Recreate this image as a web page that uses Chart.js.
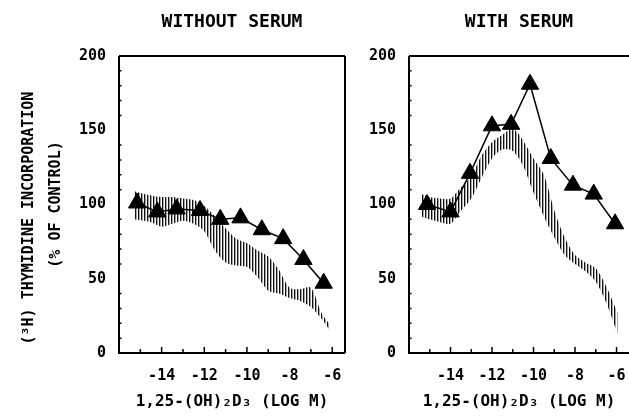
<!DOCTYPE html>
<html>
<head>
<meta charset="utf-8">
<script src="https://cdn.jsdelivr.net/npm/chart.js@4.4.1/dist/chart.umd.min.js"></script>
<style>
  html, body { margin: 0; padding: 0; background: #fff; overflow: hidden; }
  #wrap { position: relative; width: 629px; height: 420px; }
  canvas { position: absolute; top: 0; }
  #sinSuero { left: 0; }
  #conSuero { left: 350px; }
</style>
</head>
<body>
<div id="wrap">
  <canvas id="sinSuero" width="350" height="420"></canvas>
  <canvas id="conSuero" width="279" height="420"></canvas>
</div>
<script>
// marcas del eje x (log M) y etiquetas
const xTicks = [-15, -14, -13, -12, -11, -10, -9, -8, -7, -6];
const xLabels = [-14, -12, -10, -8, -6];
const yMinorTicks = [10, 20, 30, 40, 60, 70, 80, 90, 110, 120, 130, 140, 160, 170, 180, 190];

// sin suero: triangulos
const noSerumDose = [-15.15, -14.2, -13.3, -12.2, -11.25, -10.3, -9.3, -8.3, -7.35, -6.4];
const noSerumValues = [101, 95, 97, 96, 90, 91, 83, 77, 63, 47];
// sin suero: banda rayada (limites)
const noSerumBandX = [-15.3, -14.5, -14.0, -13.5, -13.0, -12.5, -12.0, -11.5, -11.0, -10.5, -10.0, -9.5, -9.0, -8.5, -8.0, -7.5, -7.0, -6.5, -6.1];
const noSerumBandHigh = [109, 106, 105, 105, 104, 103, 99, 92, 84, 77, 74, 69, 65, 56, 44, 43, 44, 27, 19];
const noSerumBandLow = [90, 88, 85, 87, 89, 87, 82, 69, 61, 59, 58, 51, 42, 40, 37, 35, 31, 23, 15];

// con suero: triangulos
const serumDose = [-15.13, -14.0, -13.06, -12.0, -11.08, -10.17, -9.17, -8.1, -7.1, -6.07];
const serumValues = [100, 95, 121, 153, 154, 181, 131, 113, 107, 87];
// con suero: banda rayada
const serumBandX = [-15.4, -15.0, -14.5, -14.0, -13.6, -13.0, -12.5, -12.0, -11.5, -11.0, -10.5, -10.0, -9.5, -9.0, -8.5, -8.0, -7.5, -7.0, -6.5, -5.95];
const serumBandHigh = [107, 105, 104, 104, 110, 119, 133, 142, 147, 151, 143, 131, 120, 96, 78, 66, 61, 57, 45, 27];
const serumBandLow = [92, 90, 88, 87, 94, 104, 118, 131, 137, 136, 126, 108, 92, 78, 66, 60, 55, 48, 34, 13];

const FONT = "'DejaVu Sans Mono', 'Liberation Mono', monospace";

// patron de rayas verticales para la banda
const makeHatch = () => {
  const c = document.createElement("canvas");
  c.width = 3;
  c.height = 4;
  const g = c.getContext("2d");
  g.fillStyle = "#111";
  g.fillRect(0, 0, 1, 4);
  g.fillStyle = "rgba(0,0,0,0.35)";
  g.fillRect(1, 0, 1, 4);
  return g.createPattern(c, "repeat");
};

const toPoints = (xs, ys) => xs.map((x, i) => ({ x: x, y: ys[i] }));

// marco + marcas interiores
const frameTicks = {
  id: "frameTicks",
  afterDraw(chart, args, opts) {
    const { ctx, chartArea: a } = chart;
    const xs = chart.scales.x;
    const ys = chart.scales.y;
    ctx.save();
    ctx.strokeStyle = "#000";
    ctx.lineWidth = 2;
    ctx.beginPath();
    ctx.moveTo(a.left, a.top);
    ctx.lineTo(a.left, a.bottom);
    ctx.lineTo(a.right, a.bottom);
    if (opts.right) {
      ctx.moveTo(a.right, a.bottom);
      ctx.lineTo(a.right, a.top);
    }
    ctx.moveTo(a.left, a.top);
    ctx.lineTo(a.right, a.top);
    ctx.stroke();

    ctx.lineWidth = 1.5;
    ctx.beginPath();
    xTicks.forEach((v) => {
      const px = xs.getPixelForValue(v);
      const len = xLabels.includes(v) ? 6 : 4;
      ctx.moveTo(px, a.bottom);
      ctx.lineTo(px, a.bottom - len);
    });
    yMinorTicks.forEach((v) => {
      const py = ys.getPixelForValue(v);
      ctx.moveTo(a.left, py);
      ctx.lineTo(a.left + 2.5, py);
    });
    ctx.stroke();
    ctx.restore();
  },
};

const buildChart = (canvasId, cfg) => {
  const ctx = document.getElementById(canvasId).getContext("2d");
  const hatch = makeHatch();
  return new Chart(ctx, {
    type: "line",
    data: {
      datasets: [
        {
          label: "triangulos",
          data: toPoints(cfg.dose, cfg.values),
          borderColor: "#000",
          borderWidth: 1.5,
          pointStyle: "triangle",
          pointRadius: 10,
          pointBackgroundColor: "#000",
          pointBorderColor: "#000",
          pointBorderWidth: 1,
          fill: false,
          clip: false,
        },
        {
          label: "banda alta",
          data: toPoints(cfg.bandX, cfg.bandHigh),
          borderColor: "transparent",
          borderWidth: 0,
          pointRadius: 0,
          tension: 0.3,
          fill: false,
        },
        {
          label: "banda baja",
          data: toPoints(cfg.bandX, cfg.bandLow),
          borderColor: "transparent",
          borderWidth: 0,
          pointRadius: 0,
          tension: 0.3,
          backgroundColor: hatch,
          fill: "-1",
        },
      ],
    },
    options: {
      responsive: false,
      animation: false,
      events: [],
      layout: {
        autoPadding: false,
        padding: { left: 0, right: cfg.padRight, top: 0, bottom: 0 },
      },
      plugins: {
        legend: { display: false },
        tooltip: { enabled: false },
        title: {
          display: true,
          text: cfg.title,
          fullSize: false,
          color: "#000",
          font: { family: FONT, size: 18, weight: "bold", lineHeight: 1.2 },
          padding: { top: 12, bottom: 22.4 },
        },
        frameTicks: { right: cfg.frameRight },
      },
      scales: {
        x: {
          type: "linear",
          min: -16,
          max: -5.4,
          grid: { display: false, drawTicks: false },
          border: { display: false },
          afterBuildTicks: (scale) => {
            scale.ticks = xTicks.map((v) => ({ value: v }));
          },
          afterFit: (scale) => {
            scale.height = 67;
            scale.paddingLeft = 0;
            scale.paddingRight = 0;
          },
          ticks: {
            autoSkip: false,
            maxRotation: 0,
            padding: 14,
            color: "#000",
            font: { family: FONT, size: 15, weight: "bold" },
            callback: (v) => (xLabels.includes(v) ? String(v) : ""),
          },
          title: {
            display: true,
            text: "1,25-(OH)₂D₃ (LOG M)",
            color: "#000",
            font: { family: FONT, size: 16, weight: "bold", lineHeight: 1.2 },
            padding: { top: 0, bottom: 8.4 },
          },
        },
        y: {
          min: 0,
          max: 200,
          grid: { display: false, drawTicks: false },
          border: { display: false },
          afterFit: (scale) => {
            scale.width = cfg.yWidth;
            scale.paddingTop = 0;
            scale.paddingBottom = 0;
          },
          ticks: {
            stepSize: 50,
            padding: 13,
            color: "#000",
            font: { family: FONT, size: 15, weight: "bold" },
          },
          title: cfg.yTitle,
        },
      },
    },
    plugins: [frameTicks],
  });
};

buildChart("sinSuero", {
  title: "WITHOUT SERUM",
  dose: noSerumDose,
  values: noSerumValues,
  bandX: noSerumBandX,
  bandHigh: noSerumBandHigh,
  bandLow: noSerumBandLow,
  yWidth: 119,
  padRight: 5,
  frameRight: true,
  yTitle: {
    display: true,
    text: ["(³H) THYMIDINE INCORPORATION   ", "(% OF CONTROL)"],
    color: "#000",
    font: { family: FONT, size: 15, weight: "bold", lineHeight: 1.8 },
    padding: { top: 15.5, bottom: 0 },
  },
});

buildChart("conSuero", {
  title: "WITH SERUM",
  dose: serumDose,
  values: serumValues,
  bandX: serumBandX,
  bandHigh: serumBandHigh,
  bandLow: serumBandLow,
  yWidth: 59,
  padRight: 0,
  frameRight: false,
  yTitle: { display: false },
});
</script>
</body>
</html>
